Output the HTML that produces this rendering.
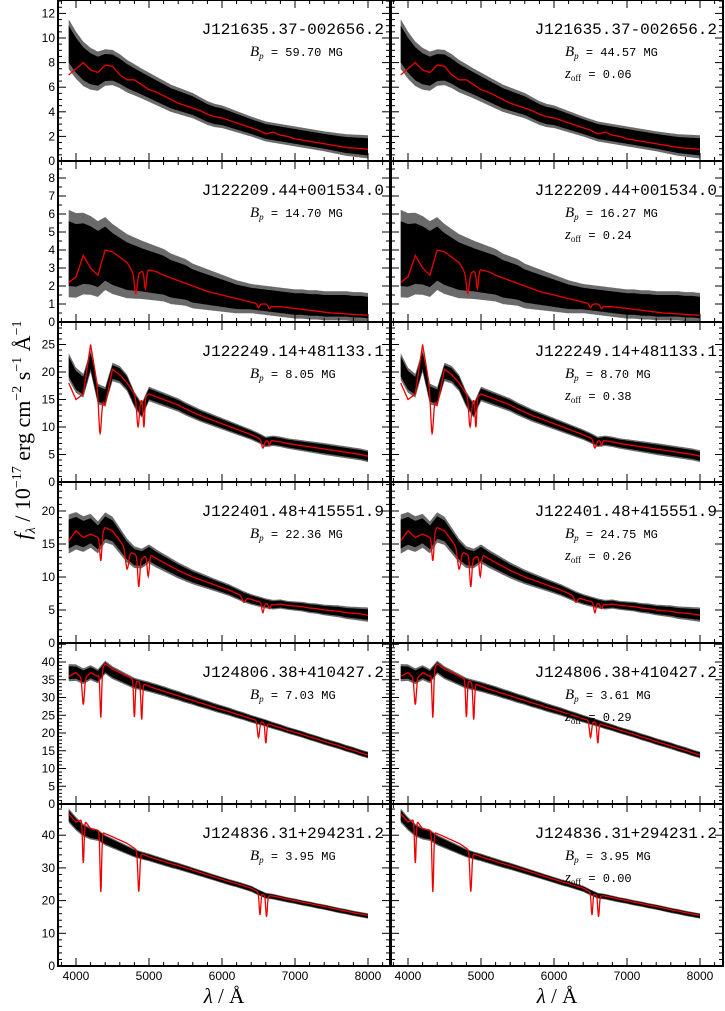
<!DOCTYPE html>
<html><head><meta charset="utf-8"><style>
html,body{margin:0;padding:0;background:#fff;}
svg{display:block;}
</style></head><body>
<svg id="fig" xmlns="http://www.w3.org/2000/svg" width="725" height="1011" viewBox="0 0 725 1011"></svg>
<script>
const wl=[3900,4000,4100,4200,4300,4400,4500,4600,4700,4800,4900,5000,5100,5200,5300,5400,5500,5600,5700,5800,5900,6000,6100,6200,6300,6400,6500,6600,6700,6800,6900,7000,7100,7200,7300,7400,7500,7600,7700,7800,7900,8000];
const hwWl=[3900,4400,4900,5400,5900,6400,6900,7400,8000];
const names=["J121635.37-002656.2","J122209.44+001534.0","J122249.14+481133.1","J122401.48+415551.9","J124806.38+410427.2","J124836.31+294231.2"];
const bpLeft=["59.70","14.70","8.05","22.36","7.03","3.95"];
const bpRight=["44.57","16.27","8.70","24.75","3.61","3.95"];
const zoff=["0.06","0.24","0.38","0.26","0.29","0.00"];
const obs1=[9.5,8.6,7.9,7.5,7.3,7.6,7.6,7.3,6.9,6.6,6.3,6.0,5.7,5.4,5.1,4.9,4.7,4.5,4.2,3.9,3.7,3.6,3.4,3.2,3.0,2.8,2.6,2.4,2.3,2.2,2.1,2.0,1.9,1.8,1.7,1.6,1.5,1.4,1.3,1.25,1.2,1.15];
const mod1=[7.0,7.5,8.0,7.4,7.2,7.8,7.7,7.0,6.6,6.6,6.2,5.8,5.6,5.3,5.0,4.7,4.5,4.3,4.1,3.8,3.6,3.5,3.3,3.1,2.9,2.7,2.5,2.2,2.35,2.1,2.0,1.8,1.7,1.6,1.5,1.4,1.3,1.2,1.1,1.05,1.0,0.95];
const obs2=[3.8,3.7,3.8,3.7,3.5,3.8,3.5,3.3,3.1,3.0,2.9,2.8,2.7,2.6,2.4,2.3,2.2,2.0,1.9,1.8,1.7,1.6,1.5,1.4,1.35,1.3,1.25,1.2,1.15,1.1,1.05,1.0,1.0,0.95,0.95,0.9,0.9,0.9,0.9,0.85,0.85,0.8];
const mod2=[2.2,2.5,3.7,3.0,2.6,4.0,3.9,3.6,3.3,2.6,2.8,2.9,2.8,2.6,2.45,2.3,2.15,2.0,1.85,1.7,1.6,1.5,1.4,1.3,1.2,1.1,1.0,1.0,0.85,0.85,0.8,0.75,0.7,0.65,0.6,0.55,0.5,0.48,0.45,0.42,0.4,0.38];
const obs3=[21,18.5,17.5,22,16,15.5,20,19.5,18,15,13,16,15.5,15,14.5,14,13.3,12.7,12.1,11.6,11.1,10.6,10.1,9.6,9.1,8.6,8.0,7.3,7.5,7.3,7.0,6.8,6.6,6.4,6.2,6.0,5.8,5.6,5.4,5.2,5.0,4.7];
const mod3=[18,15,16,25,17,14,20.5,19.5,18,16,15,16,15.5,15,14.5,14,13.3,12.7,12.1,11.6,11.1,10.6,10.1,9.6,9.1,8.6,8.0,7.5,7.5,7.3,7.0,6.8,6.6,6.4,6.2,6.0,5.8,5.6,5.4,5.2,5.0,4.7];
const obs4=[16.5,17,16.5,17,16,17.5,17,15.5,14,13,12.8,13.5,12.8,12.2,11.6,11,10.5,10,9.6,9.2,8.8,8.4,8.0,7.5,7.0,6.6,6.3,6.0,5.8,5.9,5.7,5.6,5.5,5.3,5.2,5.0,4.9,4.8,4.6,4.5,4.4,4.3];
const mod4=[15.5,17,16,16.5,16,17.5,17,15.5,14,13.5,12.8,13.5,12.8,12.2,11.6,11,10.5,10,9.6,9.2,8.8,8.4,8.0,7.5,7.0,6.6,6.3,6.0,5.8,5.9,5.7,5.6,5.5,5.3,5.2,5.0,4.9,4.8,4.6,4.5,4.4,4.2];
const obs5=[37,37,36,37,36,38.5,37,36,35,34,33.5,33,32.4,31.8,31.1,30.5,29.8,29.2,28.5,27.9,27.2,26.6,26,25.3,24.7,24,23.4,22.8,22.1,21.5,20.8,20.2,19.6,18.9,18.3,17.6,17,16.4,15.7,15.1,14.4,13.8];
const mod5=[36,37,35,37,36,39.5,38,37,36,35,34,33.2,32.4,31.8,31.1,30.5,29.8,29.2,28.5,27.9,27.2,26.6,26,25.3,24.7,24,23.4,22.8,22.1,21.5,20.8,20.2,19.6,18.9,18.3,17.6,17,16.4,15.7,15.1,14.4,13.8];
const obs6=[46,43.5,41.5,40.5,40,38.5,37.5,36.5,35.5,34.5,33.8,33.2,32.5,31.8,31.1,30.5,29.8,29.1,28.4,27.7,27,26.3,25.6,25,24.3,23.6,22.5,21.5,21.2,20.7,20.2,19.8,19.3,18.9,18.4,18,17.5,17,16.6,16.1,15.7,15.3];
const mod6=[46.5,44,45,42,41.5,40.5,39.5,38.5,37.5,36,34.3,33.4,32.7,32,31.3,30.7,30,29.3,28.6,27.9,27.2,26.5,25.8,25.2,24.5,23.8,22.5,21.5,21.4,20.9,20.4,20,19.5,19.1,18.6,18.2,17.7,17.2,16.8,16.3,15.9,15.5];
const hw1=[1.5,1.1,0.9,0.8,0.7,0.6,0.6,0.6,0.7];
const hw2=[1.8,1.5,1.2,1.0,0.8,0.6,0.6,0.6,0.6];
const hw3=[1.8,1.3,1.0,0.9,0.8,0.7,0.7,0.8,0.8];
const hw4=[2.2,1.7,1.1,0.9,0.7,0.6,0.5,0.6,0.8];
const hw5=[1.8,1.4,1.1,1.0,0.9,0.8,0.7,0.7,0.7];
const hw6=[1.6,1.2,0.9,0.8,0.7,0.7,0.6,0.6,0.6];
const lines1=[];
const lines2=[[4820,0.4,25],[4950,0.35,20],[6500,0.2,20],[6650,0.2,20]];
const lines3=[[4330,0.45,25],[4850,0.35,25],[4930,0.35,15],[6560,0.2,25],[6650,0.12,15]];
const lines4=[[4340,0.25,20],[4700,0.2,30],[4860,0.35,20],[4990,0.25,20],[6300,0.12,30],[6560,0.25,20],[6650,0.12,20]];
const lines5=[[4100,0.2,20],[4340,0.35,15],[4800,0.3,15],[4900,0.3,15],[6500,0.2,20],[6600,0.25,15]];
const lines6=[[4100,0.3,15],[4340,0.45,15],[4860,0.35,18],[6520,0.3,15],[6610,0.3,15]];
const yMajor=[2,1,5,5,5,10];
const yMinor=[0.5,0.5,1,1,1,2];
const xTicks=[4000,5000,6000,7000,8000];

const OBS=[obs1,obs2,obs3,obs4,obs5,obs6], MOD=[mod1,mod2,mod3,mod4,mod5,mod6];
const HW=[hw1,hw2,hw3,hw4,hw5,hw6], LINES=[lines1,lines2,lines3,lines4,lines5,lines6];
const rowTop=[0,161,322,482,643,804,966];
const ppu=[12.3,18,5.5,6.6,3.55,3.27];
const panels=[{x0:58,x1:390,x4:76},{x0:391,x1:723,x4:408}];
const NS="http://www.w3.org/2000/svg";
const svg=document.getElementById('fig');
function mk(tag,attrs,parent){const e=document.createElementNS(NS,tag);for(const k in attrs)e.setAttribute(k,attrs[k]);(parent||svg).appendChild(e);return e;}
function interp(xs,ys,x){if(x<=xs[0])return ys[0];for(let i=1;i<xs.length;i++){if(x<=xs[i]){const t=(x-xs[i-1])/(xs[i]-xs[i-1]);return ys[i-1]+t*(ys[i]-ys[i-1]);}}return ys[ys.length-1];}
function modelAt(r,l){let v=interp(wl,MOD[r],l);let f=1;LINES[r].forEach(ln=>{f-=ln[1]*Math.exp(-Math.pow((l-ln[0])/ln[2],2));});return v*f;}

for(let r=0;r<6;r++){
  const top=rowTop[r],bot=rowTop[r+1];
  const yS=v=>bot-v*ppu[r];
  const yMaxV=(bot-top)/ppu[r];
  panels.forEach((p,pi)=>{
    const xS=l=>p.x4+(l-4000)*0.073;
    const g=mk('g',{});
    
    
    let up=[],lo=[],up2=[],lo2=[];
    for(let l=3900;l<=8000;l+=10){const c=interp(wl,OBS[r],l),h=interp(hwWl,HW[r],l);
      up.push(xS(l).toFixed(1)+','+Math.max(top,yS(c+h)).toFixed(1));lo.unshift(xS(l).toFixed(1)+','+Math.min(bot,yS(c-h)).toFixed(1));
      up2.push(xS(l).toFixed(1)+','+Math.max(top,yS(c+1.35*h)).toFixed(1));lo2.unshift(xS(l).toFixed(1)+','+Math.min(bot,yS(c-1.35*h)).toFixed(1));}
    const b2=mk('polygon',{points:up2.concat(lo2).join(' '),fill:'#6a6a6a'},g);
    
    
    const b=mk('polygon',{points:up.concat(lo).join(' '),fill:'#000'},g);
    
    
    let pts=[];for(let l=3900;l<=8000;l+=5){pts.push(xS(l).toFixed(1)+','+Math.max(top,yS(modelAt(r,l))).toFixed(1));}
    const m=mk('polyline',{points:pts.join(' '),fill:'none',stroke:'#e00',"stroke-width":1.3},g);
    
    
    const fr=mk('rect',{x:p.x0,y:top,width:p.x1-p.x0,height:bot-top,fill:'none',stroke:'#000',"stroke-width":2},g);
    
    
    for(let l=3800;l<=8200;l+=200){const x=xS(l);if(x<=p.x0||x>=p.x1)continue;const len=(l%1000===0)?8:4;
      mk('line',{x1:x,x2:x,y1:bot,y2:bot-len,stroke:'#000'},g);mk('line',{x1:x,x2:x,y1:top,y2:top+len,stroke:'#000'},g);}
    for(let v=0;v<=yMaxV+1e-6;v+=yMinor[r]){const y=yS(v);const maj=Math.abs(v/yMajor[r]-Math.round(v/yMajor[r]))<1e-6;const len=maj?8:4;
      mk('line',{x1:p.x0,x2:p.x0+len,y1:y,y2:y,stroke:'#000'},g);mk('line',{x1:p.x1,x2:p.x1-len,y1:y,y2:y,stroke:'#000'},g);
      if(pi===0&&maj&&y>top+4){const t=mk('text',{x:55,y:y+4,"text-anchor":"end","font-family":"Liberation Sans, sans-serif","font-size":12},g);t.textContent=Math.round(v);
        
        }}
    const nm=mk('text',{x:p.x1-6,y:top+34,"text-anchor":"end","font-family":"Liberation Mono, monospace","font-size":16},g);
    nm.textContent=names[r];
    
    
    const bx=pi?565:250;
    const bp=mk('text',{x:bx,y:top+56,"font-size":12},g);
    
    
    bp.innerHTML=`<tspan font-family="Liberation Serif, serif" font-style="italic" font-size="15">B</tspan><tspan font-family="Liberation Serif, serif" font-style="italic" font-size="9" dy="3">p</tspan><tspan font-family="Liberation Mono, monospace" dy="-3"> = ${(pi?bpRight:bpLeft)[r]} MG</tspan>`;
    if(pi){const z=mk('text',{x:565,y:top+78,"font-size":12},g);
      
      
      z.innerHTML=`<tspan font-family="Liberation Serif, serif" font-style="italic" font-size="15">z</tspan><tspan font-family="Liberation Serif, serif" font-size="9" dy="3">off</tspan><tspan font-family="Liberation Mono, monospace" dy="-3"> = ${zoff[r]}</tspan>`;}
    if(r===5){xTicks.forEach(l=>{const t=mk('text',{x:xS(l),y:980,"text-anchor":"middle","font-family":"Liberation Sans, sans-serif","font-size":12},g);t.textContent=l;
      
      });
      const xt=mk('text',{x:(p.x0+p.x1)/2,y:1003,"text-anchor":"middle","font-family":"Liberation Serif, serif","font-size":21},g);
      xt.innerHTML='<tspan font-style="italic">λ</tspan> / Å';
      
      }
  });
}
const yt=mk('text',{x:0,y:0,transform:'translate(30,430) rotate(-90)',"text-anchor":"middle","font-family":"Liberation Serif, serif","font-size":22});
yt.innerHTML='<tspan font-style="italic">f</tspan><tspan font-style="italic" font-size="14" dy="5">λ</tspan><tspan dy="-5"> / 10</tspan><tspan font-size="14" dy="-9">−17</tspan><tspan dy="9"> erg cm</tspan><tspan font-size="14" dy="-9">−2</tspan><tspan dy="9"> s</tspan><tspan font-size="14" dy="-9">−1</tspan><tspan dy="9"> Å</tspan><tspan font-size="14" dy="-9">−1</tspan>';


</script>
</body></html>
